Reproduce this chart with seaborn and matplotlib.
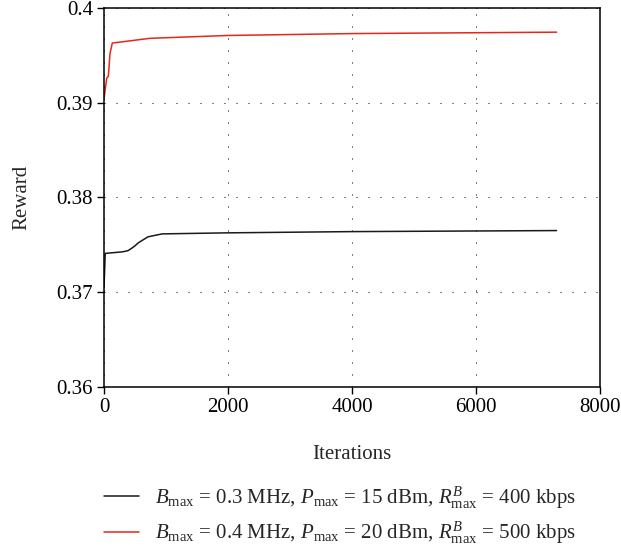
import numpy as np
import pandas as pd
import matplotlib
matplotlib.use("Agg")
import matplotlib.pyplot as plt
import seaborn as sns

# Data
iters_black = [0, 20, 290, 350, 390, 450, 500, 550, 630, 710, 820, 940, 2000, 4000, 7300]
reward_black = [0.3705, 0.3741, 0.37426, 0.37433, 0.3744, 0.37466, 0.3749, 0.3752, 0.37553,
                0.37585, 0.3760, 0.37616, 0.37627, 0.3764, 0.37651]
iters_red = [0, 44, 70, 97, 134, 500, 740, 2000, 4000, 7300]
reward_red = [0.3904, 0.3926, 0.3928, 0.3952, 0.3963, 0.3966, 0.3968, 0.3971, 0.3973, 0.39745]

label_black = r"$B_{\mathrm{max}}$ = 0.3 MHz, $P_{\mathrm{max}}$ = 15 dBm, $R^{B}_{\mathrm{max}}$ = 400 kbps"
label_red = r"$B_{\mathrm{max}}$ = 0.4 MHz, $P_{\mathrm{max}}$ = 20 dBm, $R^{B}_{\mathrm{max}}$ = 500 kbps"

x_ticks = [0, 2000, 4000, 6000, 8000]
y_ticks = [0.36, 0.37, 0.38, 0.39, 0.40]
y_tick_labels = ["0.36", "0.37", "0.38", "0.39", "0.4"]

sns.set_style("ticks")
plt.rcParams["font.family"] = ["Liberation Serif", "DejaVu Serif"]
plt.rcParams["mathtext.fontset"] = "custom"
plt.rcParams["mathtext.rm"] = "Liberation Serif"
plt.rcParams["mathtext.it"] = "Liberation Serif:italic"
plt.rcParams["mathtext.bf"] = "Liberation Serif:bold"

FS = 15

fig = plt.figure(figsize=(6.21, 5.5), dpi=100)
ax = fig.add_axes([104 / 621, 1 - 387 / 550, (600 - 104) / 621, (387 - 8) / 550])

df_black = pd.DataFrame({"Iterations": iters_black, "Reward": reward_black})
df_red = pd.DataFrame({"Iterations": iters_red, "Reward": reward_red})

sns.lineplot(data=df_black, x="Iterations", y="Reward", ax=ax, color="#1a1a1a",
             lw=1.1, label=label_black, estimator=None, sort=False)
sns.lineplot(data=df_red, x="Iterations", y="Reward", ax=ax, color="#e8251b",
             lw=1.1, label=label_red, estimator=None, sort=False)

ax.set_xlim(0, 8000)
ax.set_ylim(0.36, 0.40)
ax.set_xticks(x_ticks)
ax.set_xticklabels([str(t) for t in x_ticks])
ax.set_yticks(y_ticks)
ax.set_yticklabels(y_tick_labels)

ax.grid(True, color="black", linestyle=(0, (1, 11)), linewidth=0.72)
for s in ax.spines.values():
    s.set_visible(True)
    s.set_linewidth(1.1)
    s.set_color("black")

ax.tick_params(axis="both", direction="out", length=5, width=1.0, labelsize=FS,
               colors="black", pad=3)
ax.set_xlabel("Iterations", fontsize=FS, labelpad=20)
ax.set_ylabel("Reward", fontsize=FS, labelpad=18)

ax.legend(loc="upper left", bbox_to_anchor=(89 / 621, 1 - 470 / 550),
          bbox_transform=fig.transFigure, frameon=False, fontsize=FS,
          handlelength=1.7, handletextpad=0.75, labelspacing=0.45, borderpad=0.2)

fig.savefig("out.png", dpi=100)
